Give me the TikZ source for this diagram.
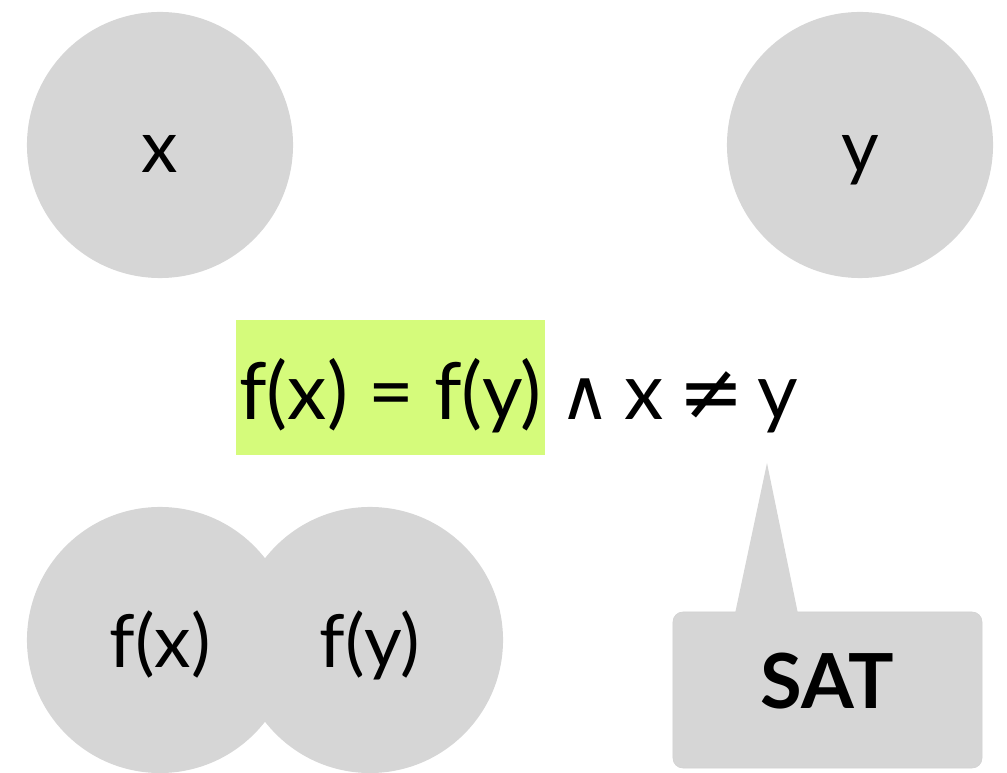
\documentclass[tikz,border=0pt]{standalone}
\usepackage{fontspec}
\setmainfont{Lato}
\newfontfamily\symfont{DejaVu Sans}
\usepackage{xcolor}
\usetikzlibrary{calc}
\definecolor{kolo}{RGB}{214,214,214}
\definecolor{zielen}{RGB}{213,251,123}
\newcommand{\duzy}{\fontsize{52}{62}\selectfont}
\newcommand{\rownanie}{\fontsize{56}{67}\selectfont}

\begin{document}
\begin{tikzpicture}[x=0.025cm,y=-0.025cm,
  ball/.style={circle,fill=kolo,minimum size=6.65cm,inner sep=0pt,
    text height=1.35cm,text depth=0pt,font=\duzy},
  eqbox/.style={fill=zielen,inner sep=0pt,minimum width=7.725cm,
    text height=2.5cm,text depth=0.875cm,font=\rownanie},
  satbox/.style={fill=kolo,draw=black!18,rounded corners=0.25cm,
    minimum width=7.725cm,minimum height=3.9cm,inner sep=0pt,
    text height=0.9cm,text depth=0pt,font=\fontsize{54}{64}\selectfont\bfseries}]
\clip (0,0) rectangle (1007,773);
% ---- KOLA ----
\node[ball] (nx) at (160,145) {x};
\node[ball] (ny) at (860,145) {y};
\node[ball] (nfx) at (160,640) {f(x)};
\node[ball] (nfy) at (370,640) {f(y)};
% ---- ROWNANIE ----
\node[eqbox,anchor=base] (eq) at (390.5,420) {f(x) = f(y)};
\node[anchor=base west,inner sep=0pt,font=\rownanie] (rest)
  at ($(eq.base east)+(14,0)$)
  {{\symfont\fontsize{50}{60}\selectfont ∧}\hspace{0.33cm}x\hspace{0.38cm}{\symfont ≠}\hspace{0.33cm}y};
% ---- DYMEK ----
\node[satbox] (sat) at (827.5,690) {SAT};
\coordinate (tip) at (767,463);
\fill[kolo] (tip) -- ($(sat.north)+(-92.5,2)$) -- ($(sat.north)+(-29.5,2)$) -- cycle;
\end{tikzpicture}
\end{document}
